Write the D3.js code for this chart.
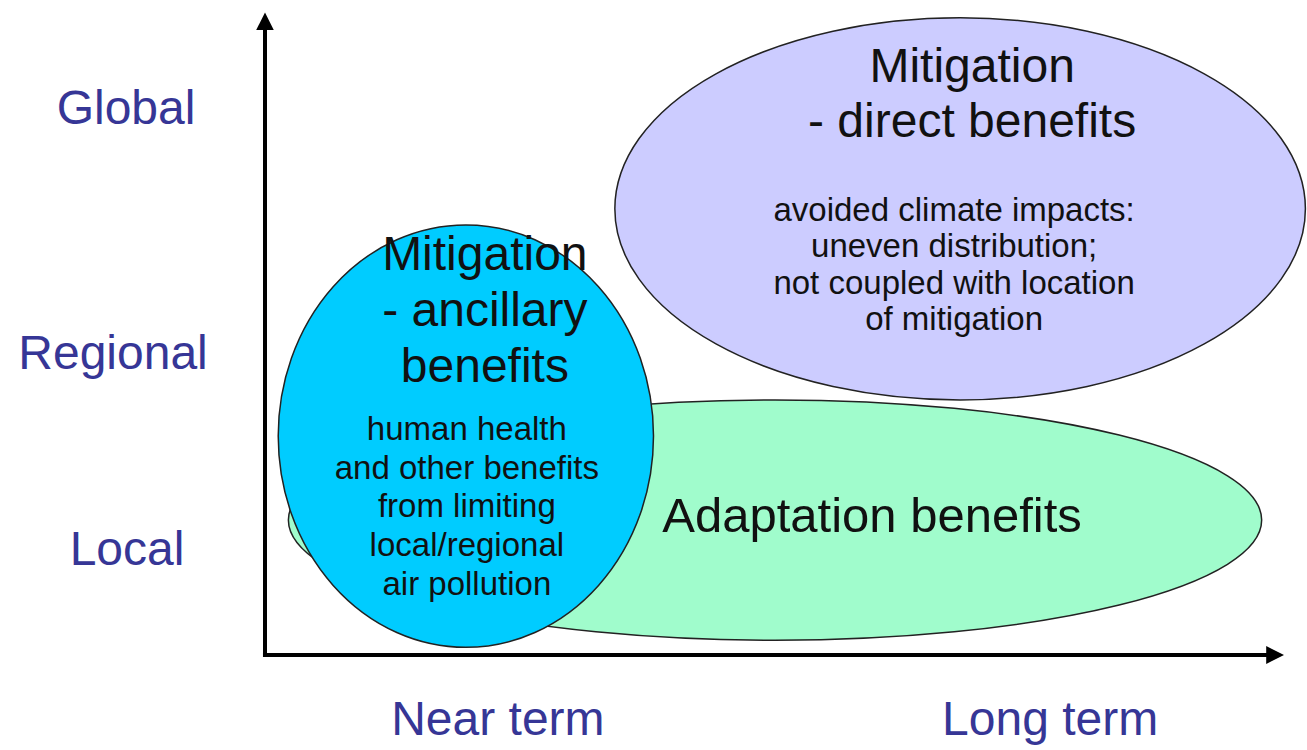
<!DOCTYPE html>
<html>
<head>
<meta charset="utf-8">
<script src="https://cdn.jsdelivr.net/npm/d3@7"></script>
<style>
  body { margin: 0; background: #fff; }
  svg { display: block; font-family: "Liberation Sans", Arial, sans-serif; }
</style>
</head>
<body>
<svg id="drawing_region"></svg>
<script>
// spatial scale categories (y) and time horizon categories (x)
const yLabels = ['Local', 'Regional', 'Global'];
const yLabelValues = [16.7, 47.3, 85.6];
const xLabels = ['Near term', 'Long term'];
const xLabelValues = [22.9, 77.2];

// benefit regions: extent in time (x) and spatial scale (y), 0..100
const regionNames = ['Adaptation', 'Mitigation direct', 'Mitigation ancillary'];
const regionTimeStart = [2.3, 34.4, 1.3];
const regionTimeEnd = [98.0, 102.3, 38.2];
const regionScaleLow = [2.3, 39.8, 1.2];
const regionScaleHigh = [39.8, 99.4, 67.1];
const regionTitles = [
    ['Adaptation benefits'],
    ['Mitigation', '- direct benefits'],
    ['Mitigation', '- ancillary', 'benefits']
];
const regionBodies = [
    [],
    ['avoided climate impacts:', 'uneven distribution;', 'not coupled with location', 'of mitigation'],
    ['human health', 'and other benefits', 'from limiting', 'local/regional', 'air pollution']
];

const width = 1307;
const height = 750;
const margin = {top: 14, right: 25, bottom: 95, left: 265};

const svg = d3.select('#drawing_region')
    .attr('width', width)
    .attr('height', height);

const xscale = d3.scaleLinear().domain([0, 100]).range([margin.left, width - margin.right]);
const yscale = d3.scaleLinear().domain([0, 100]).range([height - margin.bottom, margin.top]);

const colors = d3.scaleOrdinal().domain(regionNames).range(['#a0fccc', '#ccccff', '#00ccff']);

// text layout per region (offsets from ellipse centre, px)
const layout = {
    'Adaptation': {titleDx: 97, titleY: 12, titleStep: 0, titleSize: 49, bodyDx: 0, bodyY: 0, bodyStep: 0},
    'Mitigation direct': {titleDx: 12, titleY: -127, titleStep: 55, titleSize: 48, bodyDx: -6, bodyY: 12, bodyStep: 36.5},
    'Mitigation ancillary': {titleDx: 19, titleY: -166, titleStep: 56, titleSize: 48, bodyDx: 1, bodyY: 4, bodyStep: 38.7}
};

const regions = regionNames.map((name, i) => ({
    name: name,
    t0: regionTimeStart[i], t1: regionTimeEnd[i],
    s0: regionScaleLow[i], s1: regionScaleHigh[i],
    title: regionTitles[i], body: regionBodies[i]
}));

// draw order: green, purple, blue on top
const g = svg.selectAll('g.region')
    .data(regions)
    .enter().append('g')
    .attr('class', 'region')
    .attr('transform', d => `translate(${xscale((d.t0 + d.t1) / 2)}, ${yscale((d.s0 + d.s1) / 2)})`);

g.append('ellipse')
    .attr('rx', d => (xscale(d.t1) - xscale(d.t0)) / 2)
    .attr('ry', d => (yscale(d.s0) - yscale(d.s1)) / 2)
    .attr('fill', d => colors(d.name))
    .attr('stroke', '#222')
    .attr('stroke-width', 1.5);

g.each(function(d) {
    const l = layout[d.name];
    const sel = d3.select(this);
    sel.selectAll('text.title')
        .data(d.title)
        .enter().append('text')
        .attr('class', 'title')
        .attr('x', l.titleDx)
        .attr('y', (t, i) => l.titleY + i * l.titleStep)
        .attr('text-anchor', 'middle')
        .attr('font-size', l.titleSize)
        .attr('fill', '#111')
        .text(t => t);
    sel.selectAll('text.body')
        .data(d.body)
        .enter().append('text')
        .attr('class', 'body')
        .attr('x', l.bodyDx)
        .attr('y', (t, i) => l.bodyY + i * l.bodyStep)
        .attr('text-anchor', 'middle')
        .attr('font-size', 33)
        .attr('fill', '#111')
        .text(t => t);
});

// arrow marker
svg.append('defs').append('marker')
    .attr('id', 'arrow')
    .attr('markerUnits', 'userSpaceOnUse')
    .attr('viewBox', '0 0 10 10')
    .attr('refX', 2)
    .attr('refY', 5)
    .attr('markerWidth', 18)
    .attr('markerHeight', 18)
    .attr('orient', 'auto')
    .append('path')
    .attr('d', 'M0,0 L10,5 L0,10 Z')
    .attr('fill', '#000');

const line = d3.line().x(d => xscale(d[0])).y(d => yscale(d[1]));

svg.append('path')
    .attr('d', line([[0, 0], [0, 98]]))
    .attr('stroke', '#000')
    .attr('stroke-width', 4)
    .attr('marker-end', 'url(#arrow)');

svg.append('path')
    .attr('d', line([[-0.2, 0], [98.8, 0]]))
    .attr('stroke', '#000')
    .attr('stroke-width', 4)
    .attr('marker-end', 'url(#arrow)');

// category labels
svg.selectAll('text.ylabel')
    .data(yLabels)
    .enter().append('text')
    .attr('class', 'ylabel')
    .attr('x', (d, i) => [127, 113, 126][i])
    .attr('y', (d, i) => yscale(yLabelValues[i]))
    .attr('dy', '0.36em')
    .attr('text-anchor', 'middle')
    .attr('font-size', 48)
    .attr('fill', '#363696')
    .text(d => d);

svg.selectAll('text.xlabel')
    .data(xLabels)
    .enter().append('text')
    .attr('class', 'xlabel')
    .attr('x', (d, i) => xscale(xLabelValues[i]))
    .attr('y', 735)
    .attr('text-anchor', 'middle')
    .attr('font-size', 48)
    .attr('fill', '#363696')
    .text(d => d);
</script>
</body>
</html>
